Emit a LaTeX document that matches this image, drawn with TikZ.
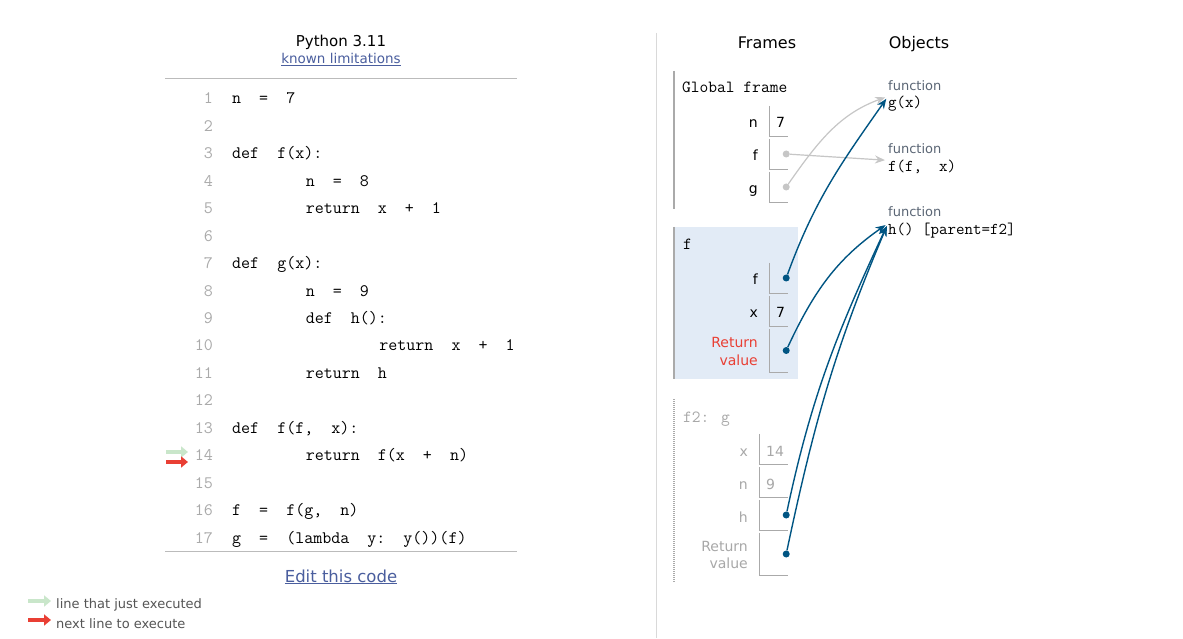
\documentclass[tikz,border=0pt]{standalone}
\usepackage{fontspec}
\setmainfont{DejaVu Sans}
\usetikzlibrary{arrows.meta}
\definecolor{ptblue}{HTML}{005583}
\definecolor{ptgray}{HTML}{C6C6C6}
\definecolor{ptred}{HTML}{E93F34}
\definecolor{ptgreen}{HTML}{C9E6CA}
\definecolor{framebg}{HTML}{E2EBF6}
\definecolor{linkblue}{HTML}{4A5E9E}
\definecolor{typegray}{HTML}{5B6675}
\definecolor{numgray}{HTML}{AAAAAA}
\definecolor{dimgray}{HTML}{A8A8A8}
\definecolor{legendgray}{HTML}{555555}
\begin{document}
\begin{tikzpicture}[x=1pt, y=-1pt,
    code/.style={font=\ttfamily\fontsize{17.5}{21}\selectfont, anchor=base west, inner sep=0pt},
    lineno/.style={code, anchor=base east, text=numgray},
    head/.style={font=\fontsize{16}{19}\selectfont, anchor=base, inner sep=0pt},
    link/.style={font=\fontsize{13.5}{16}\selectfont, anchor=base, inner sep=0pt, text=linkblue},
    legend/.style={font=\fontsize{13}{16}\selectfont, anchor=base west, inner sep=0pt, text=legendgray},
    fname/.style={font=\ttfamily\fontsize{17}{20}\selectfont, anchor=base west, inner sep=0pt},
    varname/.style={font=\fontsize{14}{17}\selectfont, anchor=base east, inner sep=0pt},
    val/.style={font=\fontsize{14}{17}\selectfont, anchor=base west, inner sep=0pt},
    cell/.style={minimum width=18pt, minimum height=30pt, inner sep=0pt},
    cellline/.style={draw=numgray, line width=0.9pt},
    framebar/.style={draw=numgray, line width=1.2pt},
    dot/.style={circle, fill=ptblue, inner sep=0pt, minimum size=7pt},
    typ/.style={font=\fontsize{13}{16}\selectfont, anchor=base west, inner sep=0pt, text=typegray},
    obj/.style={font=\ttfamily\fontsize{16.5}{19}\selectfont, anchor=base west, inner sep=0pt},
    ref/.style={ptblue, line width=1.4pt, shorten >=3pt, -{Stealth[length=10pt,width=8pt]}},
    pointer/.style={line width=4.5pt, -{Triangle[length=7pt,width=11pt]}}]
  \fill[white] (0,0) rectangle (1183,638);

  % code panel
  \node[font=\fontsize{15}{18}\selectfont, anchor=base, inner sep=0pt] (py) at (341,47) {Python 3.11};
  \node[link] (lim) at (341,64) {\underline{known limitations}};
  \draw[numgray!80, line width=1pt] (165,79) -- (517,79);
  \foreach \i in {1,...,17}
    \node[lineno] (num\i) at (213, {104+(\i-1)*27.44}) {\i};
  \node[code] (c1) at ([xshift=19pt]num1.base east) {n\ \ =\ \ 7};
  \node[code] (c3) at ([xshift=19pt]num3.base east) {def\ \ f(x):};
  \node[code] (c4) at ([xshift=92.6pt]num4.base east) {n\ \ =\ \ 8};
  \node[code] (c5) at ([xshift=92.6pt]num5.base east) {return\ \ x\ \ +\ \ 1};
  \node[code] (c7) at ([xshift=19pt]num7.base east) {def\ \ g(x):};
  \node[code] (c8) at ([xshift=92.6pt]num8.base east) {n\ \ =\ \ 9};
  \node[code] (c9) at ([xshift=92.6pt]num9.base east) {def\ \ h():};
  \node[code] (c10) at ([xshift=166.2pt]num10.base east) {return\ \ x\ \ +\ \ 1};
  \node[code] (c11) at ([xshift=92.6pt]num11.base east) {return\ \ h};
  \node[code] (c13) at ([xshift=19pt]num13.base east) {def\ \ f(f,\ \ x):};
  \node[code] (c14) at ([xshift=92.6pt]num14.base east) {return\ \ f(x\ \ +\ \ n)};
  \node[code] (c16) at ([xshift=19pt]num16.base east) {f\ \ =\ \ f(g,\ \ n)};
  \node[code] (c17) at ([xshift=19pt]num17.base east) {g\ \ =\ \ (lambda\ \ y:\ \ y())(f)};
  \draw[numgray!80, line width=1pt] (165,551) -- (517,551);
  \draw[pointer, ptgreen] (166,452) -- (188,452);
  \draw[pointer, ptred] (166,462) -- (188,462);
  \node[link, font=\fontsize{16.5}{19}\selectfont] (edit) at (341,582) {\underline{Edit this code}};

  % legend
  \draw[pointer, ptgreen] (28,601) -- (51,601);
  \draw[pointer, ptred] (28,620) -- (51,620);
  \node[legend] (leg1) at (56,608) {line that just executed};
  \node[legend] (leg2) at (56,628) {next line to execute};

  \draw[gray!30, line width=1pt] (656,33) -- (656,638);

  % frames
  \node[head] (frames) at (767,49) {Frames};
  \node[head] (objects) at (919,49) {Objects};

  \draw[framebar] (674,71) -- (674,209);
  \node[fname] (glob) at (682,93) {Global frame};
  \node[cell] (gn) at (779,121) {};
  \node[cell] (gf) at (779,154) {};
  \node[cell] (gg) at (779,187) {};
  \node[varname] at (758,128) {n};
  \node[varname] at (758,161) {f};
  \node[varname] at (758,194) {g};
  \node[val] (gnv) at (776,128) {7};

  \fill[framebg] (674,227) rectangle (798,379);
  \draw[framebar] (674,227) -- (674,379);
  \node[fname] (fframe) at (683,250) {f};
  \node[cell] (ff) at (779,278) {};
  \node[cell] (fx) at (779,311) {};
  \node[cell, minimum height=43pt] (fr) at (779,350.5) {};
  \node[varname] at (758,285) {f};
  \node[varname] at (758,318) {x};
  \node[varname, text=ptred] at (758,348) {Return};
  \node[varname, text=ptred] at (758,366) {value};
  \node[val] (fxv) at (776,318) {7};

  \draw[framebar, dash pattern=on 1pt off 1pt] (674,399) -- (674,583);
  \node[fname, text=dimgray] (f2frame) at (683,422) {f2: g};
  \node[cell, minimum width=28pt] (xx) at (774,449) {};
  \node[cell, minimum width=28pt] (xn) at (774,482) {};
  \node[cell, minimum width=28pt] (xh) at (774,515) {};
  \node[cell, minimum width=28pt, minimum height=42pt] (xr) at (774,554) {};
  \node[varname, text=dimgray] at (748,456) {x};
  \node[varname, text=dimgray] at (748,489) {n};
  \node[varname, text=dimgray] at (748,522) {h};
  \node[varname, text=dimgray] at (748,551) {Return};
  \node[varname, text=dimgray] at (748,568) {value};
  \node[val, text=dimgray] (xxv) at (766,456) {14};
  \node[val, text=dimgray] (xnv) at (766,489) {9};

  \foreach \c in {gn,gf,gg,ff,fx,fr,xx,xn,xh,xr}
    \draw[cellline] (\c.north west) |- (\c.south east);

  % objects
  \node[typ] (gtyp) at (888,91) {function};
  \node[obj] (gobj) at (888,108) {g(x)};
  \node[typ] (ftyp) at (888,154) {function};
  \node[obj] (fobj) at (888,172) {f(f,\ \ x)};
  \node[typ] (htyp) at (888,217) {function};
  \node[obj] (hobj) at (888,235) {h()\ [parent=f2]};

  % pointers
  \node[dot, fill=ptgray] (gfd) at ([xshift=-2pt]gf.east) {};
  \node[dot, fill=ptgray] (ggd) at ([xshift=-2pt]gg.east) {};
  \node[dot] (ffd) at ([xshift=-2pt]ff.east) {};
  \node[dot] (frd) at ([xshift=-2pt]fr.east) {};
  \node[dot] (xhd) at ([xshift=-2pt]xh.east) {};
  \node[dot] (xrd) at ([xshift=-2pt]xr.east) {};
  \draw[ref, ptgray, line width=1.2pt] (gfd) -- (fobj.north west);
  \draw[ref, ptgray, line width=1.2pt] (ggd) to[out=55, in=200] (gobj.north west);
  \draw[ref] (ffd) to[out=70, in=235] (gobj.north west);
  \draw[ref] (frd) to[out=65, in=215] (hobj.north west);
  \draw[ref] (xhd) to[out=78, in=245] (hobj.north west);
  \draw[ref] (xrd) to[out=78, in=247] (hobj.north west);
\end{tikzpicture}
\end{document}
